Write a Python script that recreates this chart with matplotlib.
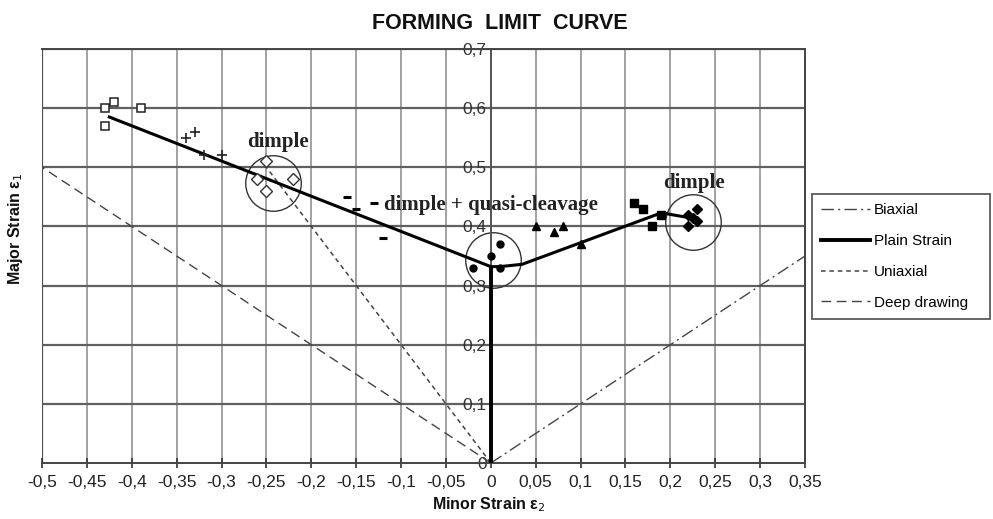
import numpy as np
import matplotlib.pyplot as plt

plt.rcParams['font.family'] = ['Liberation Sans', 'DejaVu Sans']

# axis ticks
X_TICKS = [-0.5, -0.45, -0.4, -0.35, -0.3, -0.25, -0.2, -0.15, -0.1, -0.05,
           0.0, 0.05, 0.1, 0.15, 0.2, 0.25, 0.3, 0.35]
Y_TICKS = [0.0, 0.1, 0.2, 0.3, 0.4, 0.5, 0.6, 0.7]

# reference strain paths
BIAXIAL_X = [0.0, 0.35]
BIAXIAL_Y = [0.0, 0.35]
PLAIN_X = [0.0, 0.0]
PLAIN_Y = [0.0, 0.33]
UNIAXIAL_X = [0.0, -0.25]
UNIAXIAL_Y = [0.0, 0.5]
DEEP_X = [0.0, -0.5]
DEEP_Y = [0.0, 0.5]

# forming limit curve
FLC_X = [-0.425, 0.0, 0.01, 0.035, 0.19, 0.22]
FLC_Y = [0.585, 0.332, 0.332, 0.336, 0.423, 0.415]

# measured points
OPEN_SQ_X = [-0.43, -0.42, -0.39, -0.43]
OPEN_SQ_Y = [0.60, 0.61, 0.60, 0.57]
PLUS_X = [-0.34, -0.33, -0.32, -0.30]
PLUS_Y = [0.55, 0.56, 0.52, 0.52]
OPEN_DIA_X = [-0.25, -0.26, -0.22, -0.25]
OPEN_DIA_Y = [0.51, 0.48, 0.48, 0.46]
DASH_X = [-0.16, -0.15, -0.13, -0.12]
DASH_Y = [0.45, 0.43, 0.44, 0.38]
DOT_X = [0.01, 0.0, -0.02, 0.01]
DOT_Y = [0.37, 0.35, 0.33, 0.33]
TRI_X = [0.05, 0.07, 0.08, 0.10]
TRI_Y = [0.40, 0.39, 0.40, 0.37]
FILL_SQ_X = [0.16, 0.17, 0.19, 0.18]
FILL_SQ_Y = [0.44, 0.43, 0.42, 0.40]
FILL_DIA_X = [0.23, 0.22, 0.23, 0.22, 0.225]
FILL_DIA_Y = [0.43, 0.42, 0.41, 0.40, 0.415]

# fracture mode zones
ZONE_X = [-0.243, 0.002, 0.225]
ZONE_Y = [0.474, 0.343, 0.408]
ZONE_LABELS = ['dimple', 'dimple + quasi-cleavage', 'dimple']
ZONE_LABEL_X = [-0.237, 0.0, 0.226]
ZONE_LABEL_Y = [0.543, 0.437, 0.474]


def fmt(v):
    return ('%g' % v).replace('.', ',')


fig = plt.figure(figsize=(9.93, 5.19), dpi=100)
ax = fig.add_axes([0.0423, 0.1079, 0.7684, 0.7977])
ax.set_xlim(-0.5, 0.35)
ax.set_ylim(0, 0.7)

# grid
for x in X_TICKS:
    ax.axvline(x, color='#9a9a9a', lw=1.3, zorder=0)
for y in Y_TICKS[1:]:
    ax.axhline(y, color='#606060', lw=1.6, zorder=0)
ax.axvline(-0.5, color='#505050', lw=1.6, zorder=1)

# strain paths
ax.plot(BIAXIAL_X, BIAXIAL_Y, color='#444444', lw=1.0,
        linestyle=(0, (9, 3, 1.5, 3)), label='Biaxial')
ax.plot(PLAIN_X, PLAIN_Y, color='black', lw=2.8, label='Plain Strain', zorder=3)
ax.plot(UNIAXIAL_X, UNIAXIAL_Y, color='#444444', lw=1.1,
        linestyle=(0, (3, 2.5)), label='Uniaxial')
ax.plot(DEEP_X, DEEP_Y, color='#444444', lw=1.0,
        linestyle=(0, (7, 4)), label='Deep drawing')

ax.plot(FLC_X, FLC_Y, color='black', lw=2.2, zorder=3)

# data points
ax.plot(OPEN_SQ_X, OPEN_SQ_Y, 's', ms=6, mfc='white', mec='#222222', mew=1.1, zorder=4)
ax.plot(PLUS_X, PLUS_Y, '+', ms=7, mec='#222222', mew=1.2, zorder=4)
ax.plot(OPEN_DIA_X, OPEN_DIA_Y, 'D', ms=6, mfc='white', mec='#333333', mew=1.0, zorder=4)
ax.plot(DASH_X, DASH_Y, '_', ms=5.5, mec='black', mew=2.2, zorder=4)
ax.plot(DOT_X, DOT_Y, 'o', ms=5, color='black', zorder=4)
ax.plot(TRI_X, TRI_Y, '^', ms=6, color='black', zorder=4)
ax.plot(FILL_SQ_X, FILL_SQ_Y, 's', ms=6, color='black', zorder=4)
ax.plot(FILL_DIA_X, FILL_DIA_Y, 'D', ms=5.5, color='black', zorder=4)

# zone circles
ax.plot(ZONE_X, ZONE_Y, 'o', ms=40, mfc='none', mec='#333333', mew=1.0,
        linestyle='none', zorder=2)
for t, x, y in zip(ZONE_LABELS, ZONE_LABEL_X, ZONE_LABEL_Y):
    ax.text(x, y, t, family=['Liberation Serif', 'DejaVu Serif'],
            fontweight='bold', fontsize=15, ha='center', va='center',
            color='#222222', zorder=5)

# axes
ax.spines['left'].set_position(('data', 0))
ax.spines['left'].set_color('#555555')
ax.spines['left'].set_linewidth(1.4)
for s in ['top', 'right', 'bottom']:
    ax.spines[s].set_color('#444444')
    ax.spines[s].set_linewidth(1.4)
ax.set_xticks(X_TICKS)
ax.set_xticklabels([fmt(v) for v in X_TICKS])
ax.set_yticks(Y_TICKS)
ax.set_yticklabels([fmt(v) for v in Y_TICKS])
ax.tick_params(axis='x', direction='inout', length=7, width=1.2,
               labelsize=12.5, labelcolor='#222222', pad=5, color='#333333')
ax.tick_params(axis='y', length=0, labelsize=12.5, labelcolor='#333333', pad=3)

fig.text(0.503, 0.955, 'FORMING  LIMIT  CURVE', ha='center', va='center',
         fontsize=15.5, fontweight='bold', color='#111111')
fig.text(0.492, 0.027, 'Minor Strain ε$_2$', ha='center', va='center',
         fontsize=11.5, fontweight='bold', color='#111111')
fig.text(0.016, 0.56, 'Major Strain ε$_1$', ha='center', va='center',
         rotation=90, fontsize=11.5, fontweight='bold', color='#111111')

leg = ax.legend(loc='upper left', bbox_to_anchor=(0.818, 0.386, 0.179, 0.24),
                bbox_transform=fig.transFigure, mode='expand', fontsize=11,
                frameon=True, fancybox=False, edgecolor='#333333',
                handlelength=3.2, labelspacing=1.1, borderpad=0.6,
                handletextpad=0.25, borderaxespad=0)
leg.get_frame().set_linewidth(1.3)

fig.savefig('out.png', dpi=100)
